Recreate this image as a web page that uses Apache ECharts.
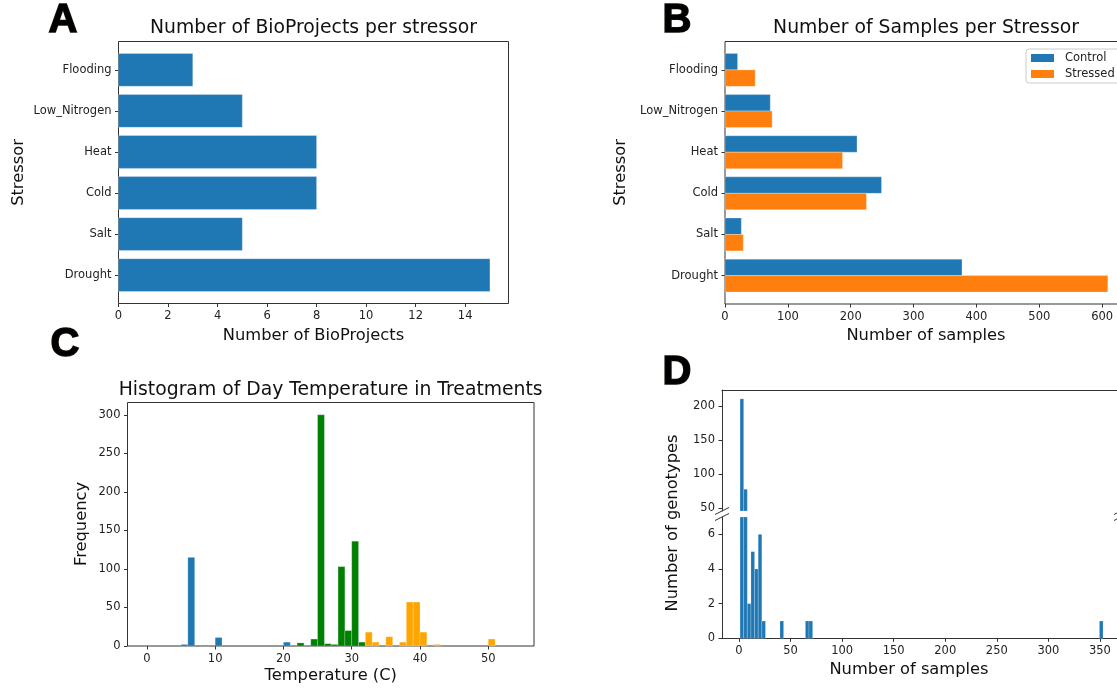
<!DOCTYPE html>
<html>
<head>
<meta charset="utf-8">
<script src="https://cdn.jsdelivr.net/npm/echarts@6/dist/echarts.min.js"></script>
<style>
  html, body { margin: 0; padding: 0; background: #fff; }
  #chart { width: 1117px; height: 688px; }
</style>
</head>
<body>
<div id="chart"></div>
<script>
// ---- Panels A and B: stressors listed from the bottom of the axis upward ----
const stressors = ['Drought', 'Salt', 'Cold', 'Heat', 'Low_Nitrogen', 'Flooding'];
const bioProjects = [15, 5, 8, 8, 5, 3];
const controlSamples = [377, 26, 249, 210, 72, 20];
const stressedSamples = [609, 29, 225, 187, 75, 48];
const bioProjectTicks = [0, 2, 4, 6, 8, 10, 12, 14];
const sampleCountTicks = [0, 100, 200, 300, 400, 500, 600];

// ---- Panel C: day temperature histograms, one group per colour (bin start, count) ----
const tempBinWidth = 1;
const coolBinStarts = [5, 6, 8, 10, 20];
const coolCounts = [2, 115, 1, 11, 5];
const mildBinStarts = [22, 24, 25, 26, 27, 28, 29, 30, 31];
const mildCounts = [4, 9, 300, 3, 2, 103, 20, 136, 5];
const hotBinStarts = [32, 33, 35, 37, 38, 39, 40, 42, 50];
const hotCounts = [18, 5, 12, 5, 57, 57, 18, 2, 9];
const tempTicks = [0, 10, 20, 30, 40, 50];
const freqTicks = [0, 50, 100, 150, 200, 250, 300];

// ---- Panel D: samples per genotype (non-empty bins only) ----
const sampleBinWidth = 3.52;
const sampleBinStarts = [1, 4.52, 8.04, 11.56, 15.08, 18.6, 22.12, 39.72, 64.36, 67.88, 349.48];
const genotypeCounts = [211, 78, 2, 5, 4, 6, 1, 1, 1, 1, 1];
const sampleTicks = [0, 50, 100, 150, 200, 250, 300, 350];
const upperGenotypeTicks = [50, 100, 150, 200];
const lowerGenotypeTicks = [0, 2, 4, 6];

const BLUE = '#1f77b4', ORANGE = '#ff7f0e', GREEN = '#008000', AMBER = '#ffa500';
const FONT = 'DejaVu Sans';
const SPINE = '#333';
const TEXT = '#222';

const chart = echarts.init(document.getElementById('chart'), null, { renderer: 'canvas' });

function clipToGrid(shape, params) {
  const cs = params.coordSys;
  return echarts.graphic.clipRectByRect(shape, { x: cs.x, y: cs.y, width: cs.width, height: cs.height });
}

// horizontal bar occupying [index+lo, index+hi] on the category scale
function hBar(lo, hi) {
  return function (params, api) {
    const v = api.value(0), i = api.value(1);
    const a = api.coord([0, i + lo]);
    const b = api.coord([v, i + hi]);
    const shape = clipToGrid({ x: a[0], y: b[1], width: b[0] - a[0], height: a[1] - b[1] }, params);
    if (!shape) return null;
    return { type: 'rect', shape, style: { fill: api.visual('color'), stroke: 'rgba(255,255,255,0.35)', lineWidth: 0.8 } };
  };
}

// histogram bin [x0, x1] with height count
function histBin(params, api) {
  const x0 = api.value(0), x1 = api.value(1), c = api.value(2);
  const a = api.coord([x0, 0]);
  const b = api.coord([x1, c]);
  const shape = clipToGrid({ x: a[0], y: b[1], width: b[0] - a[0], height: a[1] - b[1] }, params);
  if (!shape) return null;
  return { type: 'rect', shape, style: { fill: api.visual('color'), stroke: 'rgba(255,255,255,0.35)', lineWidth: 0.6 } };
}

function binData(starts, width, counts) {
  return starts.map((s, i) => [s, s + width, counts[i]]);
}

const tickLabel = { fontFamily: FONT, fontSize: 11.5, color: TEXT };

function valueAxis(gridIndex, min, max, ticks, opts) {
  opts = opts || {};
  return Object.assign({
    type: 'value', gridIndex, min, max,
    splitLine: { show: false },
    axisLine: { show: !!opts.line, onZero: false, lineStyle: { color: SPINE, width: 1 } },
    axisTick: { show: ticks.length > 0, length: 3.5, lineStyle: { color: SPINE }, customValues: ticks },
    axisLabel: Object.assign({ show: ticks.length > 0, margin: 7, customValues: ticks, formatter: opts.formatter }, tickLabel)
  }, opts.extra || {});
}

const stressorIdx = stressors.map((s, i) => i);
const stressorLabel = v => stressors[Math.round(v)];

const gridBox = { show: true, borderColor: SPINE, borderWidth: 1, backgroundColor: 'transparent' };

const text = (t, x, y, size, rot) => ({
  type: 'text', x, y, rotation: rot ? Math.PI / 2 : 0,
  style: { text: t, fontFamily: FONT, fontSize: size, fill: '#111', align: 'center', verticalAlign: 'middle' }
});
const letter = (t, x, y) => ({
  type: 'text', x, y,
  style: { text: t, fontFamily: 'Liberation Sans', fontWeight: 'bold', fontSize: 40, fill: '#000', stroke: '#1a1005', lineWidth: 1.5, align: 'center', verticalAlign: 'middle' }
});
const breakMark = (x, y) => ({ type: 'line', shape: { x1: x - 7, y1: y + 3.5, x2: x + 7, y2: y - 3.5 }, style: { stroke: SPINE, lineWidth: 1 } });

const option = {
  animation: false,
  backgroundColor: '#fff',
  grid: [
    Object.assign({ left: 118.5, top: 41.5, width: 390, height: 262, outerBoundsMode: 'none' }, gridBox),
    Object.assign({ left: 725, top: 41.5, width: 402, height: 262.5, outerBoundsMode: 'none' }, gridBox),
    Object.assign({ left: 127.5, top: 402.5, width: 406.5, height: 243.5, outerBoundsMode: 'none' }, gridBox),
    { left: 722, top: 390, width: 399, height: 121, outerBoundsMode: 'none' },
    { left: 722, top: 517, width: 399, height: 121.3, outerBoundsMode: 'none' }
  ],
  xAxis: [
    valueAxis(0, 0, 15.75, bioProjectTicks),
    valueAxis(1, 0, 639.5, sampleCountTicks),
    valueAxis(2, -2.84, 56.7, tempTicks),
    valueAxis(3, -16.5, 370.4, [], { line: true, extra: { position: 'top' } }),
    valueAxis(4, -16.5, 370.4, sampleTicks, { line: true })
  ],
  yAxis: [
    valueAxis(0, -0.69, 5.69, stressorIdx, { formatter: stressorLabel }),
    valueAxis(1, -0.69, 5.69, stressorIdx, { formatter: stressorLabel }),
    valueAxis(2, 0, 316, freqTicks),
    valueAxis(3, 46, 224, upperGenotypeTicks, { line: true }),
    valueAxis(4, 0, 7, lowerGenotypeTicks, { line: true })
  ],
  legend: {
    data: [{ name: 'Control', icon: 'rect' }, { name: 'Stressed', icon: 'rect' }],
    orient: 'vertical', left: 1026, top: 49,
    itemWidth: 23, itemHeight: 8, itemGap: 4,
    padding: [3, 30, 3, 5],
    borderColor: '#ccc', borderWidth: 1, borderRadius: 3,
    backgroundColor: 'rgba(255,255,255,0.85)',
    selectedMode: false,
    textStyle: { fontFamily: FONT, fontSize: 11.5, color: TEXT, padding: [0, 0, 0, 6] }
  },
  series: [
    { type: 'custom', name: 'BioProjects', xAxisIndex: 0, yAxisIndex: 0, itemStyle: { color: BLUE },
      renderItem: hBar(-0.4, 0.4), data: bioProjects.map((v, i) => [v, i]) },
    { type: 'custom', name: 'Control', xAxisIndex: 1, yAxisIndex: 1, itemStyle: { color: BLUE },
      renderItem: hBar(0, 0.4), data: controlSamples.map((v, i) => [v, i]) },
    { type: 'custom', name: 'Stressed', xAxisIndex: 1, yAxisIndex: 1, itemStyle: { color: ORANGE },
      renderItem: hBar(-0.4, 0), data: stressedSamples.map((v, i) => [v, i]) },
    { type: 'custom', name: 'cool', xAxisIndex: 2, yAxisIndex: 2, itemStyle: { color: BLUE },
      renderItem: histBin, data: binData(coolBinStarts, tempBinWidth, coolCounts) },
    { type: 'custom', name: 'mild', xAxisIndex: 2, yAxisIndex: 2, itemStyle: { color: GREEN },
      renderItem: histBin, data: binData(mildBinStarts, tempBinWidth, mildCounts) },
    { type: 'custom', name: 'hot', xAxisIndex: 2, yAxisIndex: 2, itemStyle: { color: AMBER },
      renderItem: histBin, data: binData(hotBinStarts, tempBinWidth, hotCounts) },
    { type: 'custom', name: 'genotypesUpper', xAxisIndex: 3, yAxisIndex: 3, itemStyle: { color: BLUE },
      renderItem: histBin, data: binData(sampleBinStarts, sampleBinWidth, genotypeCounts) },
    { type: 'custom', name: 'genotypesLower', xAxisIndex: 4, yAxisIndex: 4, itemStyle: { color: BLUE },
      renderItem: histBin, data: binData(sampleBinStarts, sampleBinWidth, genotypeCounts) }
  ],
  graphic: [
    text('Number of BioProjects per stressor', 313.5, 28, 18.8),
    text('Number of Samples per Stressor', 926, 28, 18.8),
    text('Histogram of Day Temperature in Treatments', 330.7, 390.5, 18.8),
    text('Number of BioProjects', 313.5, 335.5, 16.3),
    text('Stressor', 18.5, 172.5, 16.3, true),
    text('Number of samples', 926, 335.5, 16.3),
    text('Stressor', 621, 172.5, 16.3, true),
    text('Temperature (C)', 330.7, 676, 16.3),
    text('Frequency', 81.5, 524, 16.3, true),
    text('Number of samples', 909, 670, 16.3),
    text('Number of genotypes', 672.5, 523, 16.3, true),
    breakMark(722, 511), breakMark(722, 517),
    breakMark(1121, 511), breakMark(1121, 517),
    letter('A', 63, 21), letter('B', 677, 21), letter('C', 65, 345), letter('D', 677, 373)
  ]
};

chart.setOption(option);
</script>
</body>
</html>
